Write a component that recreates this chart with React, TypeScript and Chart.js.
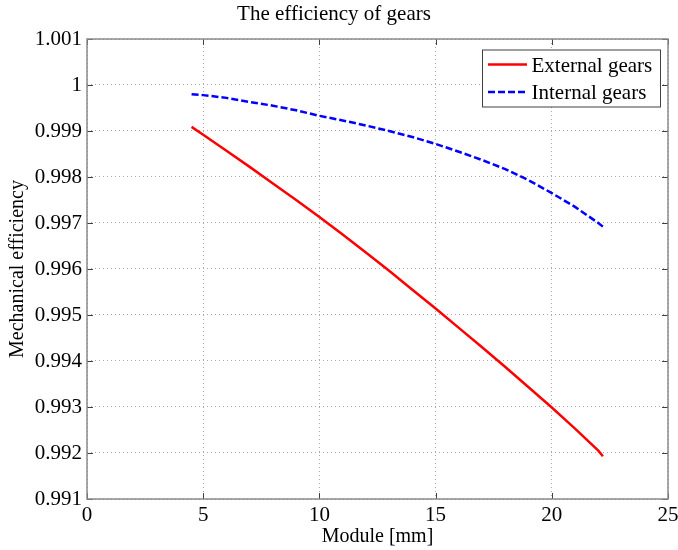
import React, { useEffect, useRef } from 'react';
import { Chart, registerables } from 'chart.js';

Chart.register(...registerables);

const moduleMm = [4.5, 5, 6, 7, 8, 9, 10, 11, 12, 13, 14, 15, 16, 17, 18, 19, 20, 21, 22, 22.2];
const externalEff = [0.99909, 0.99892, 0.99857, 0.99822, 0.99786, 0.9975, 0.99713, 0.99675, 0.99636, 0.99596, 0.99555, 0.99514, 0.99472, 0.9943, 0.99387, 0.99343, 0.99299, 0.99253, 0.99205, 0.99193];
const internalEff = [0.9998, 0.99978, 0.99972, 0.99963, 0.99955, 0.99945, 0.99933, 0.99923, 0.99912, 0.999, 0.99887, 0.99872, 0.99855, 0.99837, 0.99817, 0.99793, 0.99765, 0.99735, 0.997, 0.99692];
const seriesNames = ['External gears', 'Internal gears'];
const xTickValues = [0, 5, 10, 15, 20, 25];
const xTickLabels = ['0', '5', '10', '15', '20', '25'];
const yTickValues = [0.991, 0.992, 0.993, 0.994, 0.995, 0.996, 0.997, 0.998, 0.999, 1, 1.001];
const yTickLabels = ['0.991', '0.992', '0.993', '0.994', '0.995', '0.996', '0.997', '0.998', '0.999', '1', '1.001'];

const FONT = '"Liberation Serif", "Times New Roman", serif';
Chart.defaults.font.family = FONT;

const boxPlugin = {
  id: 'matlabBox',
  afterDatasetsDraw(chart: any) {
    const { ctx, chartArea } = chart;
    const { left, right, top, bottom } = chartArea;
    const xs = chart.scales.x;
    const ys = chart.scales.y;
    ctx.save();
    ctx.strokeStyle = '#404040';
    ctx.lineWidth = 1;
    ctx.beginPath();
    yTickValues.forEach((v) => {
      const y = Math.round(ys.getPixelForValue(v)) + 0.5;
      ctx.moveTo(left, y);
      ctx.lineTo(left + 6, y);
      ctx.moveTo(right, y);
      ctx.lineTo(right - 6, y);
    });
    xTickValues.forEach((v) => {
      const x = Math.round(xs.getPixelForValue(v)) + 0.5;
      ctx.moveTo(x, bottom);
      ctx.lineTo(x, bottom - 6);
      ctx.moveTo(x, top);
      ctx.lineTo(x, top + 6);
    });
    ctx.stroke();
    ctx.strokeStyle = '#8a8a8a';
    ctx.lineWidth = 1.5;
    ctx.strokeRect(left, top, right - left, bottom - top);

    const lx = 482, ly = 49.5, lw = 178, lh = 57;
    ctx.fillStyle = '#ffffff';
    ctx.fillRect(lx, ly, lw, lh);
    ctx.strokeStyle = '#404040';
    ctx.lineWidth = 1;
    ctx.strokeRect(lx + 0.5, ly + 0.5, lw, lh);
    const rows = [64.5, 92];
    chart.data.datasets.forEach((ds: any, i: number) => {
      const y = rows[i];
      ctx.strokeStyle = ds.borderColor;
      ctx.lineWidth = ds.borderWidth;
      ctx.setLineDash(ds.borderDash || []);
      ctx.beginPath();
      ctx.moveTo(488, y);
      ctx.lineTo(527, y);
      ctx.stroke();
      ctx.setLineDash([]);
      ctx.fillStyle = '#000';
      ctx.font = `21px ${FONT}`;
      ctx.textAlign = 'left';
      ctx.textBaseline = 'alphabetic';
      ctx.fillText(ds.label, 531.5, y + 7.3);
    });
    ctx.restore();
  },
};

export default function App() {
  const ref = useRef<HTMLCanvasElement | null>(null);

  useEffect(() => {
    if (!ref.current) return;
    const chart = new Chart(ref.current, {
      type: 'line',
      data: {
        datasets: [
          {
            label: seriesNames[0],
            data: moduleMm.map((x, i) => ({ x, y: externalEff[i] })),
            borderColor: '#ff0000',
            borderWidth: 2.5,
            pointRadius: 0,
            tension: 0,
            fill: false,
          },
          {
            label: seriesNames[1],
            data: moduleMm.map((x, i) => ({ x, y: internalEff[i] })),
            borderColor: '#0000ff',
            borderWidth: 2.5,
            borderDash: [7, 3],
            pointRadius: 0,
            tension: 0,
            fill: false,
          },
        ],
      },
      options: {
        responsive: false,
        animation: false,
        devicePixelRatio: 1,
        layout: { padding: { top: 0, right: 10, left: 0, bottom: 0 } },
        plugins: {
          legend: { display: false },
          tooltip: { enabled: false },
          title: {
            display: true,
            text: 'The efficiency of gears',
            color: '#000',
            font: { family: FONT, size: 21, weight: 'normal' },
            padding: { top: 2, bottom: 11.8 },
          },
        },
        scales: {
          x: {
            type: 'linear',
            min: 0,
            max: 25,
            afterBuildTicks: (s: any) => {
              s.ticks = xTickValues.map((v) => ({ value: v }));
            },
            afterFit: (s: any) => {
              s.height = 51;
              s.paddingRight = 0;
              s.paddingLeft = 0;
            },
            ticks: {
              color: '#000',
              font: { family: FONT, size: 21 },
              padding: 4,
              maxRotation: 0,
              autoSkip: false,
              callback: (v: any) => xTickLabels[xTickValues.indexOf(Number(v))] ?? '',
            },
            grid: { color: '#a8a8a8', lineWidth: 1, drawTicks: false },
            border: { display: false, dash: [1, 3] },
            title: {
              display: true,
              text: 'Module [mm]',
              color: '#000',
              font: { family: FONT, size: 20 },
              padding: { top: 0, bottom: 1 },
            },
          },
          y: {
            type: 'linear',
            min: 0.991,
            max: 1.001,
            afterBuildTicks: (s: any) => {
              s.ticks = yTickValues.map((v) => ({ value: v }));
            },
            afterFit: (s: any) => {
              s.width = 87;
            },
            ticks: {
              color: '#000',
              font: { family: FONT, size: 21 },
              padding: 5,
              autoSkip: false,
              callback: (v: any) => {
                const idx = yTickValues.findIndex((t) => Math.abs(t - Number(v)) < 1e-9);
                return idx >= 0 ? yTickLabels[idx] : '';
              },
            },
            grid: { color: '#a8a8a8', lineWidth: 1, drawTicks: false },
            border: { display: false, dash: [1, 3] },
            title: {
              display: true,
              text: 'Mechanical efficiency',
              color: '#000',
              font: { family: FONT, size: 20 },
              padding: { top: 6, bottom: 0 },
            },
          },
        },
      } as any,
      plugins: [boxPlugin],
    });
    return () => chart.destroy();
  }, []);

  return (
    <div style={{ position: 'absolute', left: 0, top: 0, width: 678, height: 550, background: '#fff' }}>
      <canvas ref={ref} width={678} height={550} style={{ width: 678, height: 550, display: 'block' }} />
    </div>
  );
}
